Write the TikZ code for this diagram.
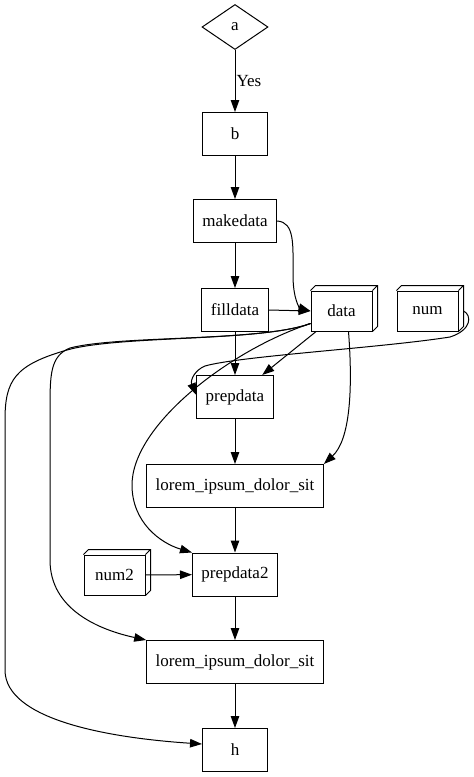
\documentclass[tikz,border=0pt]{standalone}
\usepackage{fontspec}
\setmainfont{Liberation Serif}
\usetikzlibrary{shapes.geometric,arrows.meta}

\begin{document}
\begin{tikzpicture}[x=1pt,y=-1pt,line width=1pt]
  \tikzstyle{every node}=[font=\fontsize{17}{20}\selectfont]
  \tikzstyle{proc}=[draw,rectangle,minimum width=65pt,minimum height=43pt,inner xsep=9pt]
  \tikzstyle{store}=[draw,rectangle,minimum width=61pt,minimum height=40pt]
  \tikzstyle{cond}=[draw,diamond,minimum width=66pt,minimum height=45pt,inner sep=0pt]
  \tikzstyle{edge}=[-{Triangle[length=12pt,width=8.5pt]}]
  \useasboundingbox (0,0) rectangle (474,777);

  \node[cond] (a) at (235,27) {a};
  \node[proc] (b) at (235,134) {b};
  \node[proc] (makedata) at (235,221) {makedata};
  \node[proc] (filldata) at (235,310) {filldata};
  \node[store] (data) at (341.5,311) {data};
  \node[store] (num) at (427.5,311) {num};
  \node[proc] (prepdata) at (235,397) {prepdata};
  \node[proc] (lorem1) at (235,486) {lorem\_ipsum\_dolor\_sit};
  \node[store] (num2) at (114.5,575) {num2};
  \node[proc] (prepdata2) at (235,574.5) {prepdata2};
  \node[proc] (lorem2) at (235,662) {lorem\_ipsum\_dolor\_sit};
  \node[proc] (h) at (235,750) {h};

  % box3d sides
  \foreach \n in {data,num,num2}
    \draw (\n.north west) -- ++(5pt,5pt) -| ([shift={(5pt,5pt)}]\n.south east) -- (\n.south east)
          (\n.north east) -- ++(5pt,5pt);

  \draw[edge] (a) -- node[right,inner sep=1pt] {Yes} (b);
  \draw[edge] (b) -- (makedata);
  \draw[edge] (makedata) -- (filldata);
  \draw[edge] (makedata.east) .. controls (295,222) and (293,245) .. (293,275)
    .. controls (293,300) and (300,308) .. (data.west);
  \draw[edge] (filldata.east) -- (data.west);
  \draw[edge] (filldata) -- (prepdata);
  \draw[edge] (data) -- (prepdata);
  \draw[edge] ([xshift=7pt]data.south) .. controls (353,390) and (350,440) .. (lorem1.north east);
  \draw[edge] ([yshift=8pt]data.south west) .. controls (230,350) and (132,425) .. (132,485)
    .. controls (132,522) and (160,543) .. (prepdata2.north west);
  \draw[edge] ([yshift=8pt]data.south west) .. controls (260,342) and (120,335) .. (70,348)
    .. controls (50,356) and (50,375) .. (50,410) -- (50,560)
    .. controls (50,610) and (100,630) .. (lorem2.north west);
  \draw[edge] ([yshift=8pt]data.south west) .. controls (260,342) and (120,335) .. (67,350)
    .. controls (15,365) and (5,380) .. (5,420) -- (5,670)
    .. controls (5,720) and (110,738) .. ([yshift=6pt]h.west);
  \draw[edge] ([xshift=5pt]num.east) .. controls (472,315) and (472,330) .. (450,337)
    .. controls (380,348) and (240,356) .. (205,366)
    .. controls (195,370) and (190,380) .. ([yshift=2pt]prepdata.west);
  \draw[edge] (prepdata) -- (lorem1);
  \draw[edge] (lorem1) -- (prepdata2);
  \draw[edge] (num2) -- (prepdata2);
  \draw[edge] (prepdata2) -- (lorem2);
  \draw[edge] (lorem2) -- (h);
\end{tikzpicture}
\end{document}
